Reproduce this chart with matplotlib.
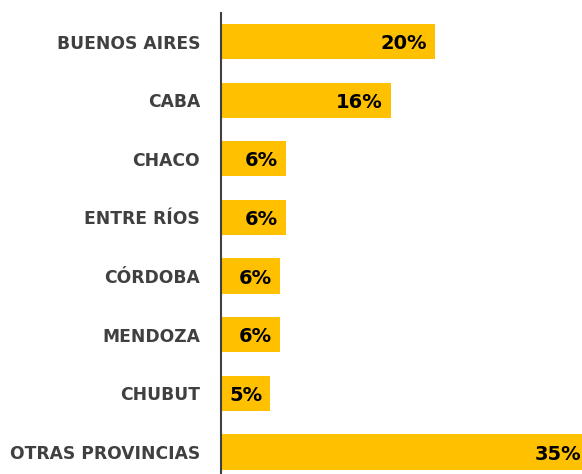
import matplotlib
matplotlib.use("Agg")
import matplotlib.pyplot as plt

provincias = ["BUENOS AIRES", "CABA", "CHACO", "ENTRE RÍOS", "CÓRDOBA",
              "MENDOZA", "CHUBUT", "OTRAS PROVINCIAS"]
valores = [20.4, 16.2, 6.2, 6.2, 5.6, 5.6, 4.7, 35.1]
etiquetas = ["20%", "16%", "6%", "6%", "6%", "6%", "5%", "35%"]

plt.rcParams['font.family'] = ['DejaVu Sans']

fig = plt.figure(figsize=(5.82, 4.74), dpi=100)
ax = fig.add_axes([221/582, 0, 1 - 221/582, 1 - 13/474])

y = list(range(len(provincias)))
ax.barh(y, valores, height=0.6, color="#FFC000")
ax.set_ylim(7.375, -0.486)
ax.set_xlim(0, 34.4)

for yi, v, t in zip(y, valores, etiquetas):
    ax.annotate(t, (v, yi), xytext=(-8, -2), textcoords="offset pixels",
                ha="right", va="center", fontsize=14, fontweight="bold",
                color="black", annotation_clip=False)

ax.set_yticks(y)
ax.set_yticklabels(provincias, fontsize=12.3, fontweight="bold", color="#404040")
ax.tick_params(axis="y", length=0, pad=15)
ax.set_xticks([])
for s in ["top", "right", "bottom"]:
    ax.spines[s].set_visible(False)
ax.spines["left"].set_color("#404040")
ax.spines["left"].set_linewidth(1.5)

fig.savefig("out.png", dpi=100)
